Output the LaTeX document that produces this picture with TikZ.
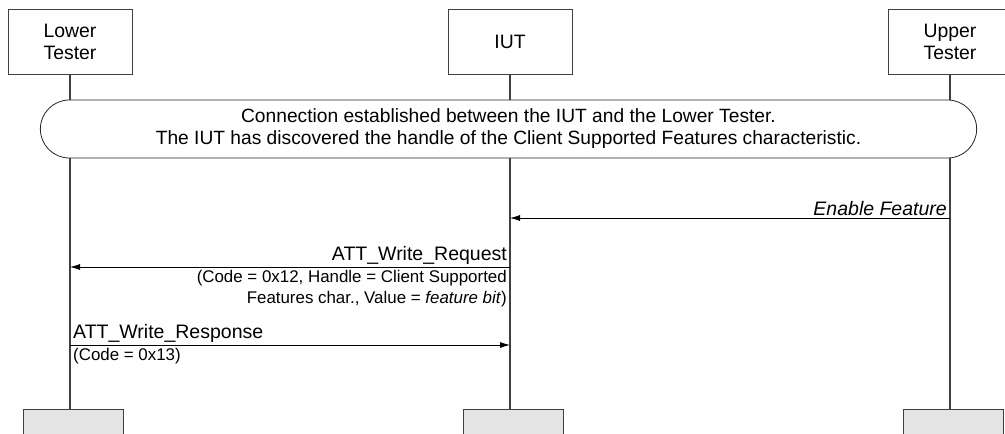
\documentclass[tikz,border=0pt]{standalone}
\usepackage{fontspec}
\setmainfont{Liberation Sans}
\usetikzlibrary{positioning,arrows.meta,calc,shapes.misc}
\definecolor{lifegray}{RGB}{64,64,64}
\definecolor{endgray}{RGB}{228,228,228}

\begin{document}
\begin{tikzpicture}[x=1pt,y=-1pt,
    actor/.style={draw=lifegray,line width=1pt,minimum width=124pt,minimum height=65pt,
                  align=center,inner sep=0pt,font=\fontsize{19.4}{22}\selectfont},
    actorend/.style={draw=lifegray,fill=endgray,line width=1pt,minimum width=100pt,
                     minimum height=40pt,anchor=north},
    life/.style={draw=lifegray,line width=1.2pt},
    cond/.style={draw=black!85,fill=white,line width=0.8pt,rounded rectangle,
                 minimum width=943pt,minimum height=58pt,align=center,
                 font=\fontsize{19.2}{22}\selectfont},
    msg/.style={draw=black,line width=0.8pt,-{Latex[length=10pt,width=6pt]}},
    msglabel/.style={inner sep=1pt,font=\fontsize{19.5}{22}\selectfont},
    msgparam/.style={inner sep=1pt,font=\fontsize{16.9}{21}\selectfont},
]
    \useasboundingbox (0,0) rectangle (1005,434);
    % Lifeline heads
    \node[actor] (lt)  at (70,41.5)  {Lower\\Tester};
    \node[actor] (iut) at (510,41.5) {IUT};
    \node[actor] (ut)  at (950,41.5) {Upper\\Tester};
    % Lifeline ends
    \node[actorend] (ltend)  at (73,409)  {};
    \node[actorend] (iutend) at (513,409) {};
    \node[actorend] (utend)  at (953,409) {};
    \foreach \a/\b in {lt/ltend,iut/iutend,ut/utend}{
        \draw[life] (\a.south) -- (\a.south |- \b.north);
    }
    % Precondition
    \node[cond] (pre) at (508.5,129)
        {Connection established between the IUT and the Lower Tester.\\
         The IUT has discovered the handle of the Client Supported Features characteristic.};
    % Points on the lifelines
    \coordinate (ut1)  at (ut.south |- 0,218);
    \coordinate (iut1) at (iut.south |- 0,218);
    \coordinate (iut2) at (iut.south |- 0,267);
    \coordinate (lt2)  at (lt.south |- 0,267);
    \coordinate (lt3)  at (lt.south |- 0,345);
    \coordinate (iut3) at (iut.south |- 0,345);
    % Enable Feature
    \draw[msg] (ut1) -- (iut1);
    \node[msglabel,anchor=south east] (m1) at ($(ut1)+(-2,-1)$) {\itshape Enable Feature};
    % ATT_Write_Request
    \draw[msg] (iut2) -- (lt2);
    \node[msglabel,anchor=south east] (m2) at ($(iut2)+(-2,-1)$) {ATT\_Write\_Request};
    \node[msgparam,anchor=north east,align=right] (p2) at ($(iut2)+(-2,2)$)
        {(Code = 0x12, Handle = Client Supported\\
         Features char., Value = \textit{feature bit})};
    % ATT_Write_Response
    \draw[msg] (lt3) -- (iut3);
    \node[msglabel,anchor=south west] (m3) at ($(lt3)+(2,-1)$) {ATT\_Write\_Response};
    \node[msgparam,anchor=north west] (p3) at ($(lt3)+(2,2)$) {(Code = 0x13)};
\end{tikzpicture}
\end{document}
